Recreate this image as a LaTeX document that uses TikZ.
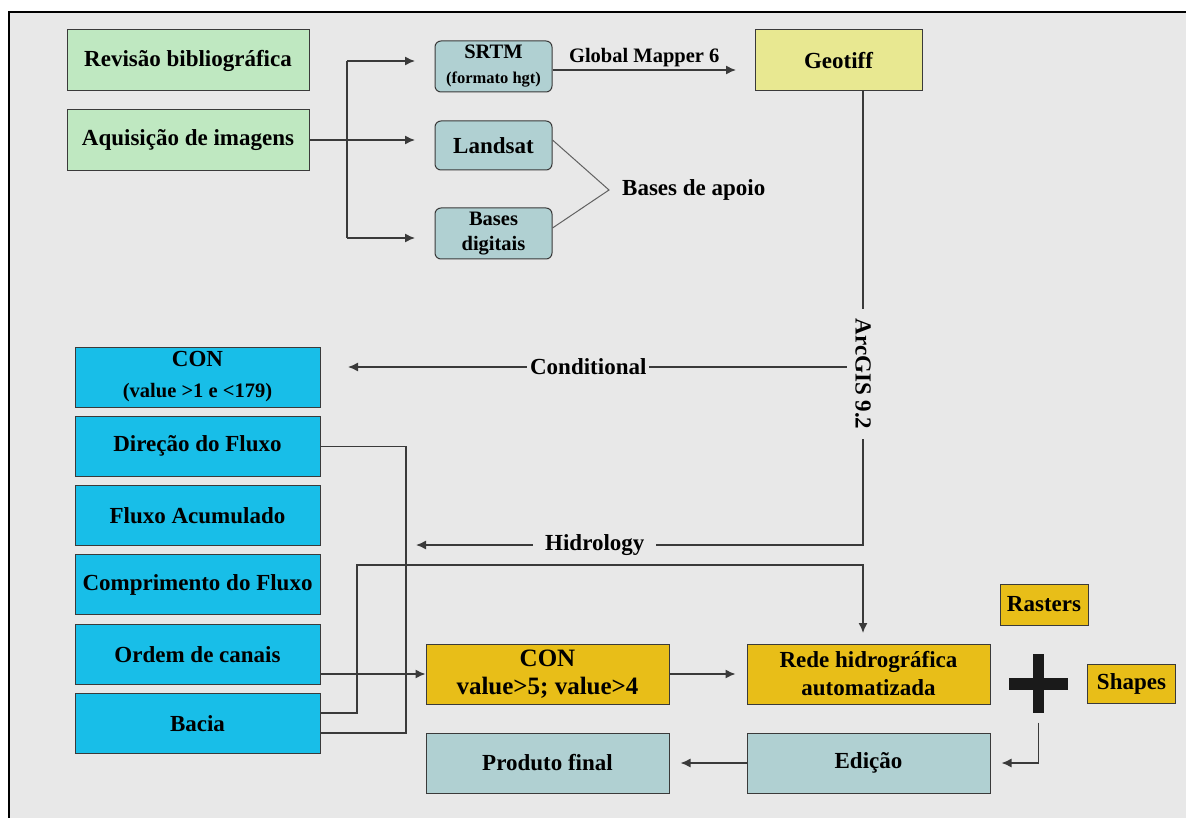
\documentclass[tikz,border=0pt]{standalone}
\usepackage{fontspec}
\setmainfont{Liberation Serif}
\usetikzlibrary{arrows.meta}
\definecolor{fundo}{HTML}{E8E8E8}
\definecolor{linha}{HTML}{3A3A3A}
\definecolor{verde}{HTML}{BFE8C1}
\definecolor{azulcla}{HTML}{B0D0D2}
\definecolor{amarelo}{HTML}{E8E891}
\definecolor{ciano}{HTML}{18BEE8}
\definecolor{ouro}{HTML}{E8BE18}
\definecolor{preto}{HTML}{1A1A1A}
\newcommand\fgrande{\bfseries\fontsize{23}{28}\selectfont}
\newcommand\fmaior{\bfseries\fontsize{25}{30}\selectfont}
\newcommand\fmedia{\bfseries\fontsize{20.5}{24}\selectfont}
\newcommand\fpequena{\bfseries\fontsize{16.5}{19}\selectfont}
\begin{document}
\begin{tikzpicture}[x=1pt,y=-1pt]
\tikzstyle{every node}+=[inner sep=0pt, font=\fgrande]
\tikzstyle{caixa}=[draw=linha, line width=1pt, align=center]
\tikzstyle{verdebox}=[caixa, fill=verde, minimum width=242pt, minimum height=61pt]
\tikzstyle{fonte}=[caixa, fill=azulcla, rounded corners=6pt, minimum width=117pt]
\tikzstyle{passo}=[caixa, fill=ciano, minimum width=245pt, minimum height=60pt]
\tikzstyle{ourobox}=[caixa, fill=ouro]
\tikzstyle{fim}=[caixa, fill=azulcla, minimum width=243pt, minimum height=60pt]
\tikzstyle{ligacao}=[draw=linha, line width=1.4pt]
\tikzstyle{seta}=[ligacao, -{Latex[length=10pt,width=9pt]}]
\tikzstyle{cinza}=[draw=linha!80, line width=1pt]

\useasboundingbox (0,0) rectangle (1186,818);
\fill[fundo] (9,12) rectangle (1186,818);
\draw[black, line width=2.5pt] (9,818) -- (9,12) -- (1186,12);

\node[verdebox] (revisao) at (188,60.5) {Revisão bibliográfica};
\node[verdebox] (aquisicao) at (188,140) {Aquisição de imagens};
\node[fonte, minimum height=51pt] (srtm) at (493.5,66.5) {{\fmedia SRTM}\\[-3pt]{\fpequena (formato hgt)}};
\node[fonte, minimum height=49pt] (landsat) at (493.5,145.5) {Landsat};
\node[fonte, minimum height=51pt] (basesdig) at (493.5,233.5) {{\fmedia Bases}\\[-3pt]{\fmedia digitais}};
\node[caixa, fill=amarelo, minimum width=167pt, minimum height=61pt] (geotiff) at (838.5,60.5) {Geotiff};

\node[passo] (con1) at (197.5,377) {CON\\[3pt]{\fmedia (value >1 e <179)}};
\node[passo] (direcao) at (197.5,446.3) {Direção do Fluxo};
\node[passo] (fluxo) at (197.5,515.6) {Fluxo Acumulado};
\node[passo] (comprimento) at (197.5,584.9) {Comprimento do Fluxo};
\node[passo] (ordem) at (197.5,654.2) {Ordem de canais};
\node[passo] (bacia) at (197.5,723.5) {Bacia};

\node[ourobox, minimum width=243pt, minimum height=60pt] (con2) at (547.5,674) {{\fmaior CON}\\{\fmaior value>5; value>4}};
\node[ourobox, minimum width=243pt, minimum height=60pt] (rede) at (868.5,674) {Rede hidrográfica\\automatizada};
\node[ourobox, minimum width=88pt, minimum height=41pt] (rasters) at (1044,604.5) {Rasters};
\node[ourobox, minimum width=88pt, minimum height=39pt] (shapes) at (1131.5,683.5) {Shapes};
\node[fim] (produto) at (547.5,763) {Produto final};
\node[fim] (edicao) at (868.5,763) {Edição};

\coordinate (garfocima) at (347,61);
\coordinate (garfobaixo) at (347,238);
\coordinate (pontas) at (415,0);
\draw[ligacao] (garfocima) -- (garfobaixo);
\draw[seta] (garfocima) -- (pontas |- garfocima);
\draw[seta] (aquisicao.east) -- (pontas |- aquisicao.east);
\draw[seta] (garfobaixo) -- (pontas |- garfobaixo);

\coordinate (gm) at (736,70);
\draw[seta] (srtm.east |- gm) -- node[above=2pt, font=\fmedia] (globalmapper) {Global Mapper 6} (gm);

\coordinate (vertice) at (609,190);
\draw[cinza] ([yshift=5.5pt]landsat.east) -- (vertice) -- ([yshift=5.5pt]basesdig.east);
\node[anchor=west] (apoio) at ([xshift=13pt]vertice) {Bases de apoio};

\coordinate (canto) at (863,545);
\coordinate (hidtip) at (416,545);
\draw[seta] (geotiff.south -| canto) -- node[pos=0.623, rotate=-90, fill=fundo, inner xsep=10pt, inner ysep=8pt] (arcgis) {ArcGIS 9.2} (canto) -- node[pos=0.6, fill=fundo, inner xsep=12pt, inner ysep=2pt] (hidrology) {Hidrology} (hidtip);

\coordinate (condtip) at (348,367);
\draw[seta] (arcgis.south |- condtip) -- node[pos=0.518, fill=fundo, inner xsep=3pt, inner ysep=2pt] (conditional) {Conditional} (condtip);

\coordinate (juncao) at (406,733);
\draw[ligacao] (direcao.east) -| (juncao) -- (juncao -| bacia.east);

\coordinate (subida) at (357,713);
\coordinate (topo) at (357,565);
\coordinate (redetip) at (863,633);
\draw[seta] (subida -| bacia.east) -- (subida) -- (topo) -| (redetip);

\draw[seta] (ordem.east |- con2.west) -- (con2.west);
\draw[seta] (con2.east) -- ([xshift=-11pt]rede.west);

\coordinate (mais) at (1038.5,683.5);
\fill[preto] ([shift={(-5.5,-29.5)}]mais) rectangle ([shift={(5.5,29.5)}]mais);
\fill[preto] ([shift={(-29.5,-6)}]mais) rectangle ([shift={(29.5,6)}]mais);
\draw[seta] ([yshift=-39pt]mais) |- ([xshift=11pt]edicao.east);
\draw[seta] (edicao.west) -- ([xshift=11pt]produto.east);
\end{tikzpicture}
\end{document}
